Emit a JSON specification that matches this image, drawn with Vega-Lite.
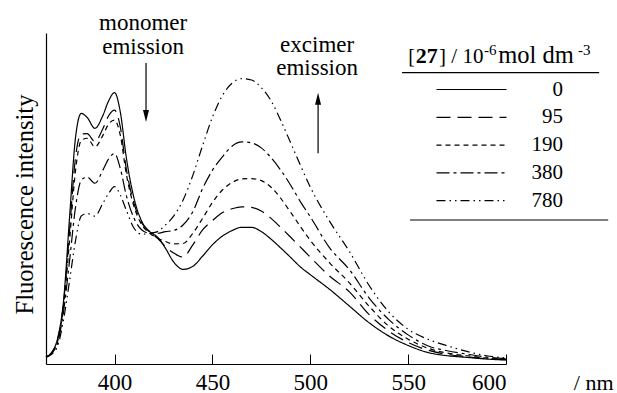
{
  "$schema": "https://vega.github.io/schema/vega-lite/v6.json",
  "width": 460,
  "height": 331,
  "autosize": {"type": "none"},
  "padding": {"left": 46, "top": 33, "right": 111, "bottom": 29},
  "background": "white",
  "config": {"view": {"stroke": null}, "font": "Liberation Serif"},
  "layer": [
    {
      "data": {"values": [
        {"nm":365,"0":2.1,"95":2.1,"190":2.1,"380":2.1,"780":2.0},
        {"nm":368,"0":3.6,"95":3.5,"190":3.4,"380":3.3,"780":3.0},
        {"nm":371,"0":7.9,"95":7.5,"190":7.0,"380":6.5,"780":5.5},
        {"nm":374,"0":19.3,"95":18.5,"190":17.5,"380":16.0,"780":13.5},
        {"nm":377,"0":44,"95":40,"190":37,"380":31,"780":25},
        {"nm":380,"0":68,"95":62,"190":58,"380":47,"780":37},
        {"nm":383,"0":75.7,"95":69.5,"190":67.5,"380":55.5,"780":44.7},
        {"nm":386,"0":74.5,"95":69.6,"190":68.2,"380":56.5,"780":45.5},
        {"nm":390,"0":71.2,"95":67.2,"190":65.6,"380":54.6,"780":44.7},
        {"nm":394,"0":75,"95":71,"190":69,"380":58.5,"780":48.5},
        {"nm":397,"0":79.5,"95":75,"190":72.5,"380":62,"780":51.5},
        {"nm":400,"0":82,"95":76.7,"190":73.7,"380":63.6,"780":53.6},
        {"nm":403,"0":76,"95":71.5,"190":69,"380":59,"780":51},
        {"nm":406,"0":62.5,"95":59,"190":57.5,"380":51,"780":46.5},
        {"nm":410,"0":50,"95":48.5,"190":47.5,"380":44,"780":41},
        {"nm":414,"0":43,"95":42.5,"190":42,"380":40.5,"780":39.2},
        {"nm":418,"0":40,"95":39.8,"190":39.5,"380":39.5,"780":39.5},
        {"nm":422,"0":38.3,"95":38,"190":38,"380":39.5,"780":40},
        {"nm":426,"0":35,"95":35.5,"190":37,"380":40,"780":42},
        {"nm":430,"0":31,"95":33.6,"190":36.3,"380":40.3,"780":44.5},
        {"nm":435,"0":28.6,"95":32.3,"190":36.4,"380":42,"780":49.5},
        {"nm":440,"0":29.5,"95":36,"190":39.5,"380":46,"780":57},
        {"nm":445,"0":32.6,"95":40.5,"190":44,"380":53,"780":66},
        {"nm":450,"0":36,"95":43.3,"190":48.8,"380":58.5,"780":74.5},
        {"nm":455,"0":38.6,"95":45.7,"190":52.5,"380":62.5,"780":81},
        {"nm":460,"0":40.3,"95":46.9,"190":54.8,"380":65.8,"780":84.8},
        {"nm":465,"0":41.3,"95":47.5,"190":55.9,"380":67.1,"780":86.2},
        {"nm":470,"0":41.3,"95":47.3,"190":56,"380":66.8,"780":85.8},
        {"nm":475,"0":40,"95":46.2,"190":55.4,"380":65.3,"780":83.5},
        {"nm":480,"0":37.7,"95":44,"190":53.4,"380":62.3,"780":79.5},
        {"nm":485,"0":35,"95":41.2,"190":50,"380":58.5,"780":73.5},
        {"nm":490,"0":32.2,"95":38.3,"190":45.8,"380":54,"780":66.8},
        {"nm":495,"0":29.3,"95":35.3,"190":41.5,"380":49,"780":60},
        {"nm":500,"0":27,"95":32.3,"190":37.4,"380":44.5,"780":53.5},
        {"nm":510,"0":22.5,"95":26.5,"190":30.5,"380":35,"780":43},
        {"nm":520,"0":17.5,"95":21.8,"190":24.5,"380":28.5,"780":34},
        {"nm":530,"0":12.5,"95":15,"190":17.5,"380":20,"780":23.8},
        {"nm":540,"0":8.5,"95":10,"190":11.5,"380":13.5,"780":15.8},
        {"nm":550,"0":5.6,"95":6.5,"190":7.5,"380":8.8,"780":10.5},
        {"nm":560,"0":3.5,"95":4.2,"190":4.8,"380":5.5,"780":7.5},
        {"nm":570,"0":2.5,"95":2.9,"190":3.3,"380":4.0,"780":5.5},
        {"nm":580,"0":2.0,"95":2.2,"190":2.5,"380":3.0,"780":3.8},
        {"nm":590,"0":1.5,"95":1.6,"190":1.8,"380":2.1,"780":2.5},
        {"nm":600,"0":1.2,"95":1.3,"190":1.4,"380":1.6,"780":1.8}
      ]},
      "transform": [{"fold": ["0","95","190","380","780"], "as": ["conc","I"]}],
      "mark": {"type": "line", "color": "black", "strokeWidth": 1.2, "interpolate": "monotone"},
      "encoding": {
        "x": {"field": "nm", "type": "quantitative",
              "scale": {"domain": [365, 600], "nice": false, "zero": false},
              "axis": {"values": [400,450,500,550,600], "grid": false,
                       "tickSize": -10, "tickColor": "black", "tickWidth": 1,
                       "domainColor": "black", "domainWidth": 1.2,
                       "labelFont": "Liberation Serif", "labelFontSize": 23, "labelColor": "black",
                       "labelBaseline": "alphabetic", "labelPadding": 35,
                       "title": "/ nm", "titleFont": "Liberation Serif", "titleFontSize": 22,
                       "titleFontWeight": "normal", "titleColor": "black",
                       "titleAnchor": "end", "titleAlign": "right", "titleBaseline": "alphabetic",
                       "titleX": 567, "titleY": 25}},
        "y": {"field": "I", "type": "quantitative",
              "scale": {"domain": [0, 100], "nice": false, "zero": false},
              "axis": {"ticks": false, "labels": false, "grid": false,
                       "domainColor": "black", "domainWidth": 1.2,
                       "title": "Fluorescence intensity", "titleFont": "Liberation Serif",
                       "titleFontSize": 24.5, "titleFontWeight": "normal", "titleColor": "black",
                       "titleX": -14, "titleY": 171, "titleAngle": 270,
                       "titleAlign": "center", "titleBaseline": "alphabetic"}},
        "strokeDash": {"field": "conc", "type": "nominal",
                       "scale": {"domain": ["0","95","190","380","780"],
                                 "range": [[1,0],[14,7],[5,4],[13,4,3,4],[9,4,1.5,4,1.5,4]]},
                       "legend": {"orient": "none", "legendX": 415, "legendY": 46,
                                  "title": null, "padding": 0,
                                  "symbolType": "M-7,0L7,0", "symbolSize": 100,
                                  "symbolStrokeWidth": 1.2, "symbolStrokeColor": "black",
                                  "labelFont": "Liberation Serif", "labelFontSize": 21,
                                  "labelColor": "black", "labelAlign": "right",
                                  "labelOffset": 81, "rowPadding": 5.8,
                                  "encode": {"symbols": {"update": {"strokeDash": {"signal": "datum.value=='95'?[28,17]:datum.value=='190'?[6.5,6]:datum.value=='380'?[22,10,5,10]:datum.value=='780'?[18,5,2,5,2,5,2,5]:[1,0]"}}}}}}
      }
    },
    {
      "data": {"values": [{}]},
      "mark": {"type": "text", "text": ["monomer", "emission"], "fontSize": 23, "lineHeight": 24.5,
               "align": "center", "baseline": "alphabetic", "color": "black", "font": "Liberation Serif"},
      "encoding": {"x": {"datum": 414.6}, "y": {"datum": 101.0}}
    },
    {
      "data": {"values": [{}]},
      "mark": {"type": "text", "text": ["excimer", "emission"], "fontSize": 23, "lineHeight": 23.5,
               "align": "center", "baseline": "alphabetic", "color": "black", "font": "Liberation Serif"},
      "encoding": {"x": {"datum": 503.5}, "y": {"datum": 94.3}}
    },
    {
      "data": {"values": [{}]},
      "mark": {"type": "rule", "color": "black", "strokeWidth": 1.2},
      "encoding": {"x": {"datum": 416.1}, "y": {"datum": 90.9}, "y2": {"datum": 74.9}}
    },
    {
      "data": {"values": [{}]},
      "mark": {"type": "point", "shape": "M0,1L-0.5,-1L0.5,-1Z", "size": 144, "filled": true, "color": "black", "opacity": 1},
      "encoding": {"x": {"datum": 416.1}, "y": {"datum": 74.9}}
    },
    {
      "data": {"values": [{}]},
      "mark": {"type": "rule", "color": "black", "strokeWidth": 1.2},
      "encoding": {"x": {"datum": 504.0}, "y": {"datum": 63.7}, "y2": {"datum": 80.1}}
    },
    {
      "data": {"values": [{}]},
      "mark": {"type": "point", "shape": "M0,-1L-0.5,1L0.5,1Z", "size": 144, "filled": true, "color": "black", "opacity": 1},
      "encoding": {"x": {"datum": 504.0}, "y": {"datum": 80.1}}
    },
    {
      "data": {"values": [{}]},
      "mark": {"type": "rule", "color": "black", "strokeWidth": 1.2},
      "encoding": {"x": {"datum": 546.9}, "x2": {"datum": 647.6}, "y": {"datum": 88.0}}
    },
    {
      "data": {"values": [{}]},
      "mark": {"type": "rule", "color": "black", "strokeWidth": 1.2},
      "encoding": {"x": {"datum": 551.0}, "x2": {"datum": 652.2}, "y": {"datum": 43.5}}
    },
    {
      "data": {"values": [{}]},
      "mark": {"type": "text", "text": "[", "fontSize": 20, "align": "left", "baseline": "alphabetic", "color": "black", "font": "Liberation Serif"},
      "encoding": {"x": {"datum": 550.1}, "y": {"datum": 90.85}}
    },
    {
      "data": {"values": [{}]},
      "mark": {"type": "text", "text": "27", "fontSize": 22, "fontWeight": "bold", "align": "left", "baseline": "alphabetic", "color": "black", "font": "Liberation Serif"},
      "encoding": {"x": {"datum": 553.9}, "y": {"datum": 90.85}}
    },
    {
      "data": {"values": [{}]},
      "mark": {"type": "text", "text": "] / 10", "fontSize": 21, "align": "left", "baseline": "alphabetic", "color": "black", "font": "Liberation Serif"},
      "encoding": {"x": {"datum": 565.8}, "y": {"datum": 90.85}}
    },
    {
      "data": {"values": [{}]},
      "mark": {"type": "text", "text": "-6", "fontSize": 15, "align": "left", "baseline": "alphabetic", "color": "black", "font": "Liberation Serif"},
      "encoding": {"x": {"datum": 588.7}, "y": {"datum": 93.35}}
    },
    {
      "data": {"values": [{}]},
      "mark": {"type": "text", "text": "mol dm", "fontSize": 24.5, "align": "left", "baseline": "alphabetic", "color": "black", "font": "Liberation Serif"},
      "encoding": {"x": {"datum": 596.0}, "y": {"datum": 90.85}}
    },
    {
      "data": {"values": [{}]},
      "mark": {"type": "text", "text": "-3", "fontSize": 15, "align": "left", "baseline": "alphabetic", "color": "black", "font": "Liberation Serif"},
      "encoding": {"x": {"datum": 636.8}, "y": {"datum": 93.35}}
    }
  ]
}
